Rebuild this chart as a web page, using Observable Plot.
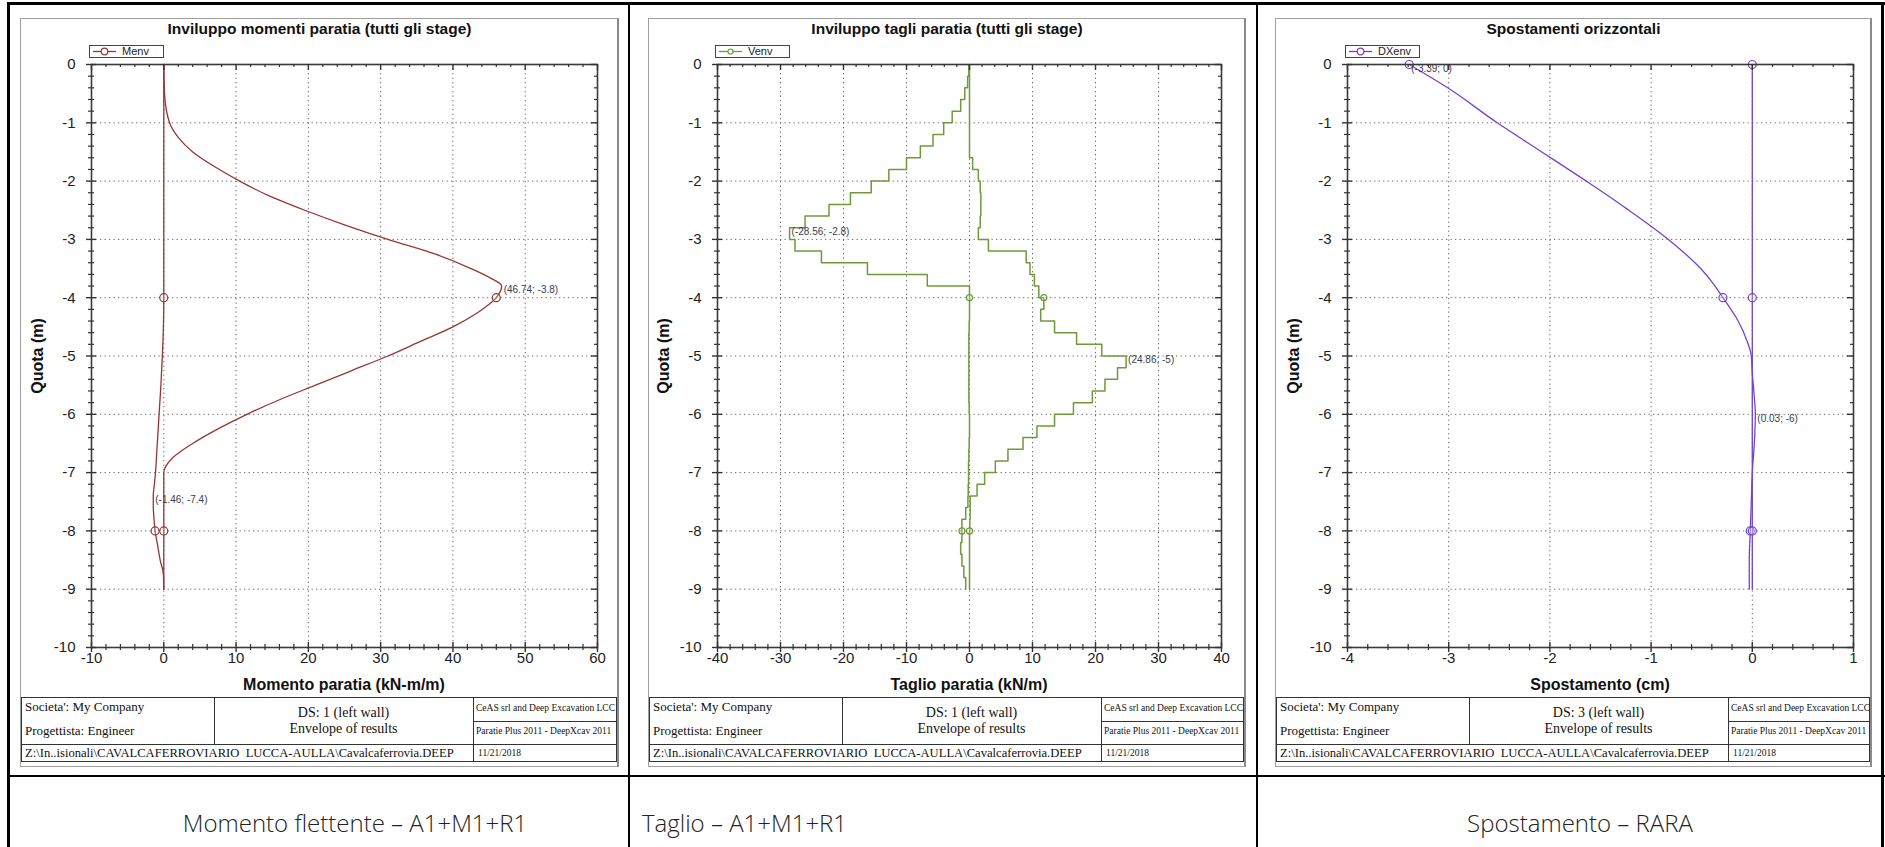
<!DOCTYPE html>
<html><head><meta charset="utf-8">
<script src="https://cdn.jsdelivr.net/npm/d3@7"></script>
<script src="https://cdn.jsdelivr.net/npm/@observablehq/plot@0.6"></script>
<style>
html,body{margin:0;padding:0;background:#fff}
body{width:1885px;height:847px;position:relative;overflow:hidden;font-family:"Liberation Sans",Arial,sans-serif}
.a{position:absolute}
.blk{position:absolute;background:#000}
.ln{position:absolute;background:#333}
.serif{font-family:"Liberation Serif","Times New Roman",serif;color:#111;white-space:pre;line-height:1}
.cap{position:absolute;font-family:"Open Sans",sans-serif;font-weight:300;font-size:24px;color:#222;white-space:nowrap;line-height:1}
</style></head><body>
<script>
// ---------------- DATA ----------------
const quotaTicks = [0,-1,-2,-3,-4,-5,-6,-7,-8,-9,-10];
const momTicksX = [-10,0,10,20,30,40,50,60];
const shearTicksX = [-40,-30,-20,-10,0,10,20,30,40];
const dxTicksX = [-4,-3,-2,-1,0,1];

// Panel 1: bending moment envelope (kN-m/m) vs depth (m)
const momMaxDepth = [0,-0.5,-1,-1.25,-1.5,-1.75,-2,-2.25,-2.5,-2.75,-3,-3.25,-3.5,-3.65,-3.8,-4,-4.25,-4.5,-4.75,-5,-5.25,-5.5,-5.75,-6,-6.25,-6.5,-6.75,-7,-7.5,-8,-8.5,-9];
const momMax = [0,0.1,0.8,2,4,7,10.5,14.5,19.5,25,31,37.5,42.5,45,46.74,46,43.5,40,35.5,31,26,21,16,11.5,7.5,4,1.2,0,0,0,0,0];
const momMinDepth = [0,-2,-4,-4.5,-5,-5.5,-6,-6.5,-7,-7.2,-7.4,-7.6,-7.8,-8,-8.25,-8.5,-8.75,-9];
const momMin = [0,0,0,-0.05,-0.2,-0.4,-0.65,-0.9,-1.15,-1.3,-1.46,-1.45,-1.35,-1.2,-0.85,-0.5,-0.05,0];
const momNoteX = [46.74,-1.46];
const momNoteY = [-3.8,-7.4];

// Panel 2: shear envelope (kN/m), step values per 0.2 m interval (top depth)
const shearDepth = [0,-0.2,-0.4,-0.6,-0.8,-1,-1.2,-1.4,-1.6,-1.8,-2,-2.2,-2.4,-2.6,-2.8,-3,-3.2,-3.4,-3.6,-3.8,-4,-4.2,-4.4,-4.6,-4.8,-5,-5.2,-5.4,-5.6,-5.8,-6,-6.2,-6.4,-6.6,-6.8,-7,-7.2,-7.4,-7.6,-7.8,-8,-8.2,-8.4,-8.6,-8.8,-9];
const shearMin = [-0.1,-0.3,-0.75,-1.4,-2.75,-4.1,-5.8,-7.8,-10,-12.8,-15.6,-18.9,-22.3,-26.1,-28.56,-27.7,-23.5,-16.2,-6.7,0,0,0,-0.05,-0.1,-0.1,-0.1,-0.1,-0.1,-0.1,-0.05,0,0,-0.05,-0.1,-0.15,-0.15,-0.2,-0.25,-0.6,-1.2,-1.2,-1.4,-1.2,-0.9,-0.6,-0.6];
const shearMax = [0,0,0,0,0,0,0,0,0.5,1.4,1.7,1.8,1.8,1.7,1.4,3.0,9.0,9.6,10.3,11.0,11.8,11.3,13.5,17,21,24.86,23.5,21.5,19.5,16.5,13.5,10.7,8.5,6.1,4.1,2.4,1.2,0.1,0.1,0.05,0,0,0,0,0,0];
const shearNoteX = [-28.56,24.86];
const shearNoteY = [-2.8,-5];

// Panel 3: horizontal displacement (cm)
const dxDepth = [0,-0.4,-1,-1.5,-2,-2.28,-2.5,-2.8,-3,-3.25,-3.5,-3.75,-4,-4.4,-4.75,-5,-5.3,-5.6,-6,-6.5,-7,-7.5,-8,-8.5,-9];
const dxA = [-3.39,-3.01,-2.52,-2.08,-1.64,-1.40,-1.22,-0.98,-0.83,-0.66,-0.51,-0.39,-0.29,-0.14,-0.05,-0.01,0,0.015,0.03,0.02,0,-0.01,-0.02,-0.03,-0.03];
const dxBDepth = [0,-4,-8,-9];
const dxB = [0,0,0,0];
const dxNoteX = [-3.39,0.03];
const dxNoteY = [0,-6];

// text
const titles = ["Inviluppo momenti paratia (tutti gli stage)","Inviluppo tagli paratia (tutti gli stage)","Spostamenti orizzontali"];
const xLabels = ["Momento paratia (kN-m/m)","Taglio paratia (kN/m)","Spostamento (cm)"];
const legendNames = ["Menv","Venv","DXenv"];
const dsLabels = ["DS: 1 (left wall)","DS: 1 (left wall)","DS: 3 (left wall)"];
const captions = ["Momento flettente – A1+M1+R1","Taglio – A1+M1+R1","Spostamento – RARA"];

// ---------------- LAYOUT ----------------
const FT = 64, FB = 647;
const cfgs = [
  {innerL:20, innerR:619, frameL:91, frameR:597, xDomain:[-10,60], xTicks:momTicksX, minorStep:2, color:"#973535", sw:1.3, r:4,
   lines:[{x:momMax,y:momMaxDepth,curve:"monotone-y"},{x:momMin,y:momMinDepth,curve:"monotone-y"}], marks:[-4,-8],
   notes:{x:momNoteX,y:momNoteY}},
  {innerL:648, innerR:1246, frameL:717, frameR:1221, xDomain:[-40,40], xTicks:shearTicksX, minorStep:2, color:"#6f9a3c", sw:1.5, r:3,
   lines:[{x:shearMin,y:shearDepth,curve:"step-before"},{x:shearMax,y:shearDepth,curve:"step-before"}], marks:[-4,-8],
   notes:{x:shearNoteX,y:shearNoteY}},
  {innerL:1275, innerR:1872, frameL:1347, frameR:1853, xDomain:[-4,1], xTicks:dxTicksX, minorStep:0.2, color:"#7445c6", sw:1.3, r:4,
   lines:[{x:dxA,y:dxDepth,curve:"monotone-y"},{x:dxB,y:dxBDepth,curve:"linear"}], marks:[0,-4,-8],
   notes:{x:dxNoteX,y:dxNoteY}}
];

function el(tag, cls, css, text){
  const e = document.createElement(tag);
  if (cls) e.className = cls;
  if (css) e.style.cssText = css;
  if (text != null) e.textContent = text;
  document.body.appendChild(e);
  return e;
}

// outer page table borders
const ROW = 775;
el("div","blk","left:7px;top:2px;width:1878px;height:3px");
el("div","blk","left:7px;top:2px;width:3px;height:845px");
el("div","blk","left:628px;top:2px;width:2px;height:845px");
el("div","blk","left:1256px;top:2px;width:2px;height:845px");
el("div","blk","left:1881px;top:2px;width:3px;height:845px");
el("div","blk",`left:7px;top:${ROW}px;width:1878px;height:2px`);

const ml=70, mr=20, mt=20, mb=40;

cfgs.forEach((p,k) => {
  // inner screenshot border
  el("div","a",`left:${p.innerL}px;top:18px;width:${p.innerR-p.innerL}px;height:749px;border:1px solid #a0a0a0;border-right:2px solid #8a8a8a;box-sizing:border-box`);
  // title
  el("div","a",`left:${p.innerL}px;top:20px;width:${p.innerR-p.innerL}px;text-align:center;font-weight:bold;font-size:15.5px;color:#111;line-height:18px`, titles[k]);
  // legend
  const lg = el("div","a",`left:${p.frameL-2}px;top:45px;width:75px;height:13px;border:1px solid #444;box-sizing:border-box;background:#fff`);
  lg.innerHTML = `<svg width="73" height="11" style="position:absolute;left:0;top:0"><line x1="3" x2="26" y1="5.5" y2="5.5" stroke="${p.color}" stroke-width="1.3"/><circle cx="14.5" cy="5.5" r="${k===1?2.5:3.3}" fill="#fff" stroke="${p.color}" stroke-width="1.2"/></svg><span style="position:absolute;left:32px;top:0px;font-size:11px;line-height:11px;color:#222">${legendNames[k]}</span>`;

  // plot
  const [x0,x1] = p.xDomain;
  const minorX = d3.range(x0, x1 + 1e-9, p.minorStep).filter(v => !p.xTicks.some(t => Math.abs(t-v) < 1e-9));
  const minorY = d3.range(-10, 1e-9, 0.2).filter(v => !quotaTicks.some(t => Math.abs(t-v) < 1e-9));
  const series = p.lines.map(s => s.x.map((v,i) => ({x:v, y:s.y[i]})));
  const markers = series.flatMap(s => s.filter(d => p.marks.includes(d.y)));
  const notes = p.notes.x.map((v,i) => ({x:v, y:p.notes.y[i], t:`(${v}; ${p.notes.y[i]})`}));
  const tickC = "#333";
  const plot = Plot.plot({
    width: p.frameR - p.frameL + ml + mr,
    height: FB - FT + mt + mb,
    marginLeft: ml, marginRight: mr, marginTop: mt, marginBottom: mb,
    x: {domain: p.xDomain},
    y: {domain: [-10, 0]},
    style: {fontFamily: "'Liberation Sans', Arial, sans-serif", fontSize: "15px", color: "#1e1e1e", background: "transparent", overflow: "visible"},
    marks: [
      Plot.gridX(p.xTicks.filter(t => t !== x0 && t !== x1), {stroke:"#6a6a6a", strokeOpacity:1, strokeDasharray:"1.3,3.2", strokeWidth:1}),
      Plot.gridY(quotaTicks.filter(t => t !== 0 && t !== -10), {stroke:"#6a6a6a", strokeOpacity:1, strokeDasharray:"1.3,3.2", strokeWidth:1}),
      ...series.map((s,i) => Plot.line(s, {x:"x", y:"y", stroke:p.color, strokeWidth:p.sw, curve:p.lines[i].curve})),
      Plot.dot(markers, {x:"x", y:"y", r:p.r, stroke:p.color, fill:"white", fillOpacity:0.2, strokeWidth:1.2}),
      Plot.text(notes, {x:"x", y:"y", text:"t", textAnchor:"start", dx:2, dy:4, fontSize:10, fill:"#3c3c4c"}),
      Plot.frame({stroke:"#3a3a3a", strokeWidth:1.6}),
      Plot.ruleX(p.xTicks, {x:d=>d, y1:-10, y2:-10, insetTop:-5, insetBottom:-5, stroke:tickC, strokeWidth:1.4}),
      Plot.ruleX(minorX, {x:d=>d, y1:-10, y2:-10, insetTop:-3, insetBottom:-3, stroke:tickC, strokeWidth:1.2}),
      Plot.ruleX(p.xTicks, {x:d=>d, y1:0, y2:0, insetTop:0, insetBottom:-6, stroke:tickC, strokeWidth:1.4}),
      Plot.ruleX(minorX, {x:d=>d, y1:0, y2:0, insetTop:0, insetBottom:-3, stroke:tickC, strokeWidth:1.2}),
      Plot.ruleY(quotaTicks, {y:d=>d, x1:x0, x2:x0, insetLeft:-5, insetRight:-5, stroke:tickC, strokeWidth:1.4}),
      Plot.ruleY(minorY, {y:d=>d, x1:x0, x2:x0, insetLeft:-3, insetRight:-3, stroke:tickC, strokeWidth:1.2}),
      Plot.ruleY(quotaTicks, {y:d=>d, x1:x1, x2:x1, insetLeft:-6, insetRight:0, stroke:tickC, strokeWidth:1.4}),
      Plot.ruleY(minorY, {y:d=>d, x1:x1, x2:x1, insetLeft:-3, insetRight:0, stroke:tickC, strokeWidth:1.2}),
      Plot.axisX(p.xTicks, {tickSize:0, tickPadding:5, tickFormat:d=>String(d), fontSize:15, label:null}),
      Plot.axisY(quotaTicks, {tickSize:0, tickPadding:16, tickFormat:d=>String(d), fontSize:15, label:null})
    ]
  });
  plot.style.position = "absolute";
  plot.style.left = (p.frameL - ml) + "px";
  plot.style.top = (FT - mt) + "px";
  document.body.appendChild(plot);

  // axis labels
  el("div","a",`left:${p.frameL}px;top:676px;width:${p.frameR-p.frameL}px;text-align:center;font-weight:bold;font-size:16px;color:#111;line-height:18px`, xLabels[k]);
  el("div","a",`left:${p.frameL-53-60}px;top:${(FT+FB)/2-9}px;width:120px;text-align:center;font-weight:bold;font-size:16px;color:#111;line-height:18px;transform:rotate(-90deg)`, "Quota (m)");

  // title block
  const L = p.innerL + 1, R = p.innerR - 2, T = 697, B = 762, M1 = 721, M2 = 744;
  el("div","a",`left:${L}px;top:${T}px;width:${R-L}px;height:${B-T}px;border:1px solid #333;box-sizing:border-box`);
  el("div","ln",`left:${L+193}px;top:${T}px;width:1px;height:${M2-T}px`);
  el("div","ln",`left:${L+452}px;top:${T}px;width:1px;height:${B-T}px`);
  el("div","ln",`left:${L+452}px;top:${M1}px;width:${R-L-452}px;height:1px`);
  el("div","ln",`left:${L}px;top:${M2}px;width:${R-L}px;height:1px`);
  el("div","a serif",`left:${L+4}px;top:${T+3}px;font-size:13px`, "Societa': My Company");
  el("div","a serif",`left:${L+4}px;top:${T+27}px;font-size:13px`, "Progettista: Engineer");
  el("div","a serif",`left:${L+193}px;top:${T+9}px;width:259px;text-align:center;font-size:14px`, dsLabels[k]);
  el("div","a serif",`left:${L+193}px;top:${T+25}px;width:259px;text-align:center;font-size:14px`, "Envelope of results");
  el("div","a serif",`left:${L+455}px;top:${T+7}px;font-size:9.5px`, "CeAS srl and Deep Excavation LCC");
  el("div","a serif",`left:${L+455}px;top:${T+30}px;font-size:9.5px`, "Paratie Plus 2011 - DeepXcav 2011");
  el("div","a serif",`left:${L+4}px;top:${M2+3}px;font-size:12.6px`, "Z:\\In..isionali\\CAVALCAFERROVIARIO  LUCCA-AULLA\\Cavalcaferrovia.DEEP");
  el("div","a serif",`left:${L+457}px;top:${M2+5}px;font-size:9.5px`, "11/21/2018");
});

// captions
el("div","cap","left:155px;top:811px;width:400px;text-align:center", captions[0]);
el("div","cap","left:642px;top:811px", captions[1]);
el("div","cap","left:1380px;top:811px;width:400px;text-align:center", captions[2]);
</script>
</body></html>
